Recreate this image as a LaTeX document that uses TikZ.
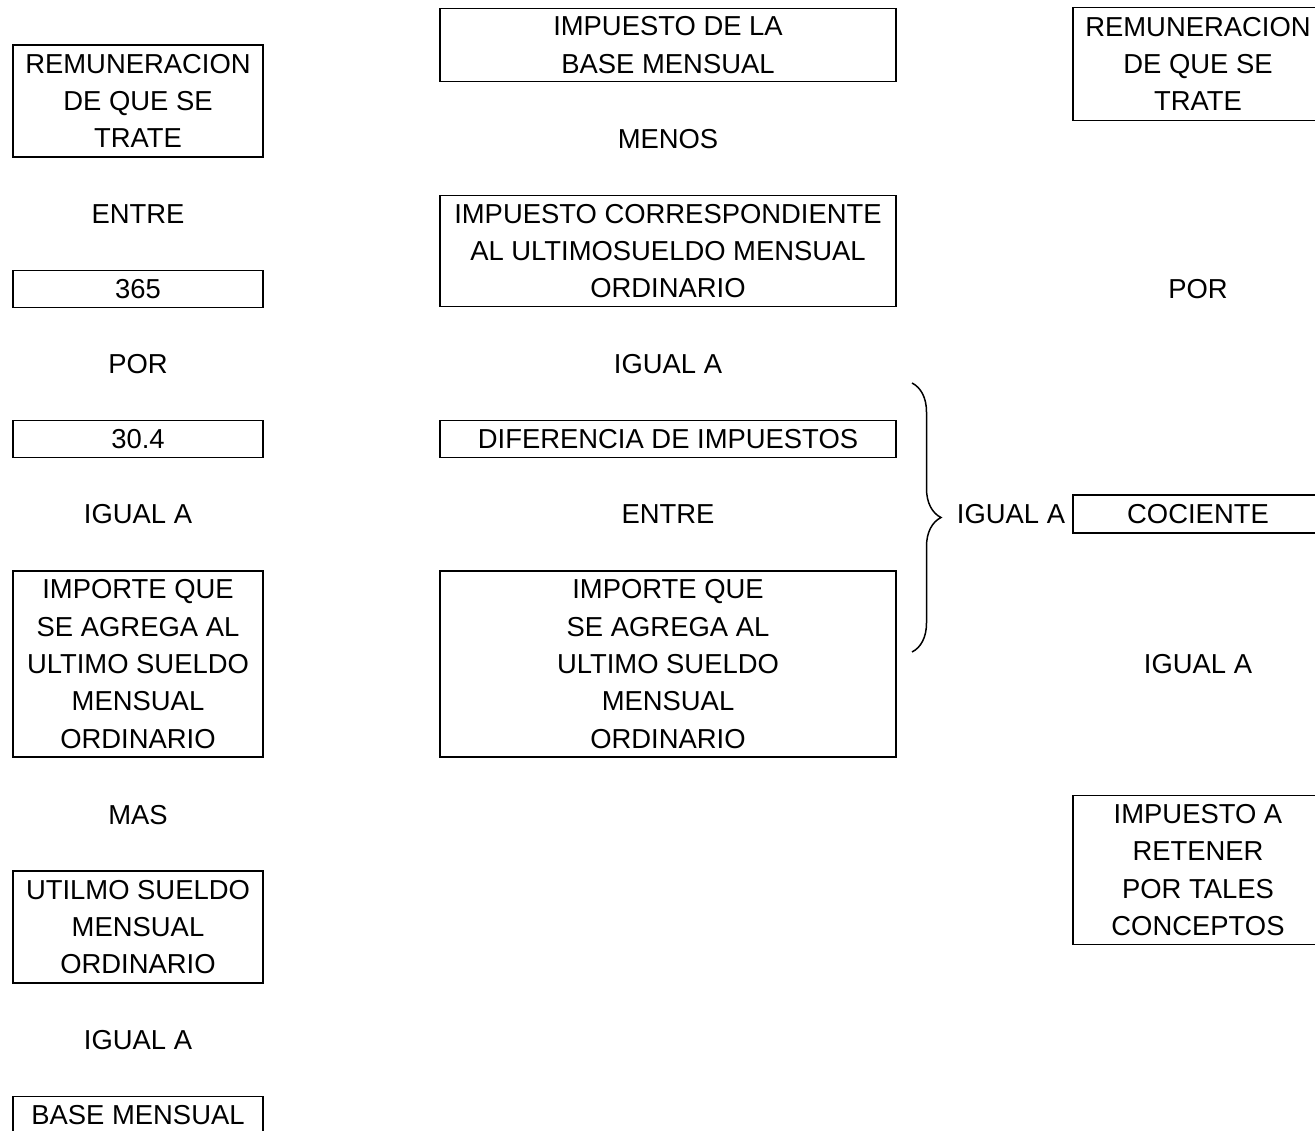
\documentclass[tikz,border=0pt]{standalone}
\usepackage{fontspec}
\setmainfont{Liberation Sans}
\usetikzlibrary{decorations.pathreplacing}
\tikzset{%
	caja/.style     = {draw, rectangle, line width=0.85pt, inner sep=0pt, align=center, minimum height=0.74cm},
	chica/.style    = {caja, minimum width=5cm},
	ancha/.style    = {caja, minimum width=9.12cm},
	operador/.style = {inner sep=0pt, align=center},
	llave/.style    = {line width=0.85pt, decorate, decoration={brace, amplitude=0.58cm}},
}

\begin{document}
\begin{tikzpicture}[x=0.02cm, y=-0.02cm, font=\fontsize{15.6}{21.3}\selectfont]
	\useasboundingbox (0,0) rectangle (1315,1130);
	
	% columna izquierda
	\node[chica, minimum height=2.24cm] (rem1) at (138,101) {REMUNERACION\\DE QUE SE\\TRATE};
	\node[operador] (entre1) at (138,214) {ENTRE};
	\node[chica] (dias) at (138,289) {365};
	\node[operador] (por1) at (138,364) {POR};
	\node[chica] (mes) at (138,439) {30.4};
	\node[operador] (igual1) at (138,514) {IGUAL A};
	\node[chica, minimum height=3.72cm] (importe1) at (138,664) {IMPORTE QUE\\SE AGREGA AL\\ULTIMO SUELDO\\MENSUAL\\ORDINARIO};
	\node[operador] (mas) at (138,815) {MAS};
	\node[chica, minimum height=2.24cm] (sueldo) at (138,927) {UTILMO SUELDO\\MENSUAL\\ORDINARIO};
	\node[operador] (igual2) at (138,1040) {IGUAL A};
	\node[chica] (base) at (138,1115) {BASE MENSUAL};
	
	% columna central
	\node[ancha, minimum height=1.46cm] (impbase) at (668,45) {IMPUESTO DE LA\\BASE MENSUAL};
	\node[operador] (menos) at (668,139) {MENOS};
	\node[ancha, minimum height=2.22cm] (impsueldo) at (668,251) {IMPUESTO CORRESPONDIENTE\\AL ULTIMOSUELDO MENSUAL\\ORDINARIO};
	\node[operador] (igual3) at (668,364) {IGUAL A};
	\node[ancha] (dif) at (668,439) {DIFERENCIA DE IMPUESTOS};
	\node[operador] (entre2) at (668,514) {ENTRE};
	\node[ancha, minimum height=3.72cm] (importe2) at (668,664) {IMPORTE QUE\\SE AGREGA AL\\ULTIMO SUELDO\\MENSUAL\\ORDINARIO};
	
	% llave
	\coordinate (llaveA) at (912,383);
	\coordinate (llaveB) at (912,652);
	\draw[llave] (llaveA) -- (llaveB);
	\node[operador] (igual4) at (1011,514) {IGUAL A};
	
	% columna derecha
	\node[chica, minimum height=2.26cm] (rem2) at (1198,64) {REMUNERACION\\DE QUE SE\\TRATE};
	\node[operador] (por2) at (1198,289) {POR};
	\node[chica, minimum height=0.76cm] (cociente) at (1198,514) {COCIENTE};
	\node[operador] (igual5) at (1198,664) {IGUAL A};
	\node[chica, minimum height=2.98cm] (retener) at (1198,870) {IMPUESTO A\\RETENER\\POR TALES\\CONCEPTOS};
\end{tikzpicture}
\end{document}
